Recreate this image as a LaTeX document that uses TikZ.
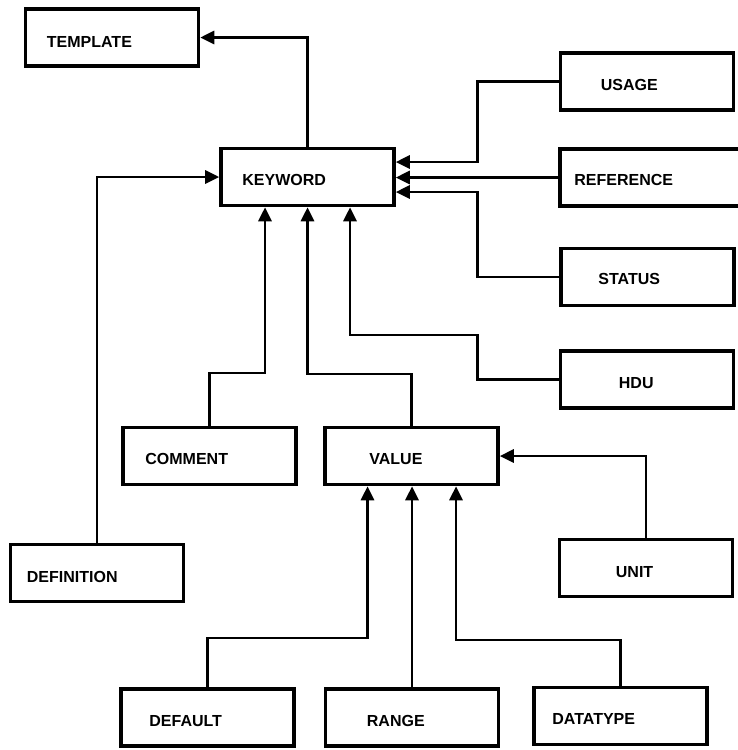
\documentclass[tikz,border=0pt]{standalone}
\usepackage{fontspec}
\setmainfont{Liberation Sans}
\usetikzlibrary{arrows.meta}
\tikzstyle{arrow} = [-{Triangle[length=14pt,width=13pt]},line width=2.8pt]
\tikzstyle{box} = [draw,rectangle,line width=3.6pt,minimum width=173pt,minimum height=57pt,inner sep=0pt]
\tikzstyle{txt} = [anchor=west,inner sep=0pt,font=\fontsize{16}{16}\selectfont\bfseries]

\begin{document}
\begin{tikzpicture}[x=1pt,y=-1pt]
          \useasboundingbox (0,0) rectangle (737,750);
          % boxes
          \node[box] (template) at (112,37.5) {};
          \node[box] (keyword) at (307.5,177) {};
          \node[box] (usage) at (647,81.5) {};
          \node[box,minimum width=184pt] (reference) at (652,177.5) {};
          \node[box] (status) at (647.5,277) {};
          \node[box] (hdu) at (647,379.5) {};
          \node[box] (comment) at (209.5,456) {};
          \node[box] (value) at (411.5,456) {};
          \node[box] (definition) at (97,573) {};
          \node[box] (unit) at (646,568) {};
          \node[box] (default) at (207.5,717.5) {};
          \node[box] (range) at (412,717.5) {};
          \node[box] (datatype) at (620.5,716) {};

          % labels
          \node[txt] (template-t) at ([xshift=23pt,yshift=-4pt]template.west) {TEMPLATE};
          \node[txt] (keyword-t) at ([xshift=23pt,yshift=-3pt]keyword.west) {KEYWORD};
          \node[txt] (usage-t) at ([xshift=42pt,yshift=-3.5pt]usage.west) {USAGE};
          \node[txt] (reference-t) at ([xshift=16pt,yshift=-2.5pt]reference.west) {REFERENCE};
          \node[txt] (status-t) at ([xshift=39pt,yshift=-2pt]status.west) {STATUS};
          \node[txt] (hdu-t) at ([xshift=60pt,yshift=-3.5pt]hdu.west) {HDU};
          \node[txt] (comment-t) at ([xshift=24pt,yshift=-3pt]comment.west) {COMMENT};
          \node[txt] (value-t) at ([xshift=46pt,yshift=-3pt]value.west) {VALUE};
          \node[txt] (definition-t) at ([xshift=18pt,yshift=-4pt]definition.west) {DEFINITION};
          \node[txt] (unit-t) at ([xshift=58pt,yshift=-4pt]unit.west) {UNIT};
          \node[txt] (default-t) at ([xshift=30pt,yshift=-3.5pt]default.west) {DEFAULT};
          \node[txt] (range-t) at ([xshift=43pt,yshift=-3.5pt]range.west) {RANGE};
          \node[txt] (datatype-t) at ([xshift=20pt,yshift=-3pt]datatype.west) {DATATYPE};

          % connectors
          \draw[arrow] (keyword.north) |- (template.east);
          \draw[arrow] (usage.west) -- ++(-81,0) |- ([yshift=15pt]keyword.east);
          \draw[arrow] (reference.west) -- (reference.west -| keyword.east);
          \draw[arrow] (status.west) -- ++(-82,0) |- ([yshift=-15pt]keyword.east);
          \draw[arrow] (hdu.west) -- ++(-81,0) |- (350,335) -- ([xshift=42.5pt]keyword.south);
          \draw[arrow] (value.north) |- (307.5,374) -- (keyword.south);
          \draw[arrow] (comment.north) |- (265,373) -- ([xshift=-42.5pt]keyword.south);
          \draw[arrow] (definition.north) |- (keyword.west);
          \draw[arrow] (unit.north) |- (value.east);
          \draw[arrow] (default.north) |- (367.5,638) -- ([xshift=-44pt]value.south);
          \draw[arrow] (range.north) -- (range.north |- value.south);
          \draw[arrow] (datatype.north) |- (456,640) -- ([xshift=44.5pt]value.south);
        \end{tikzpicture}
\end{document}
